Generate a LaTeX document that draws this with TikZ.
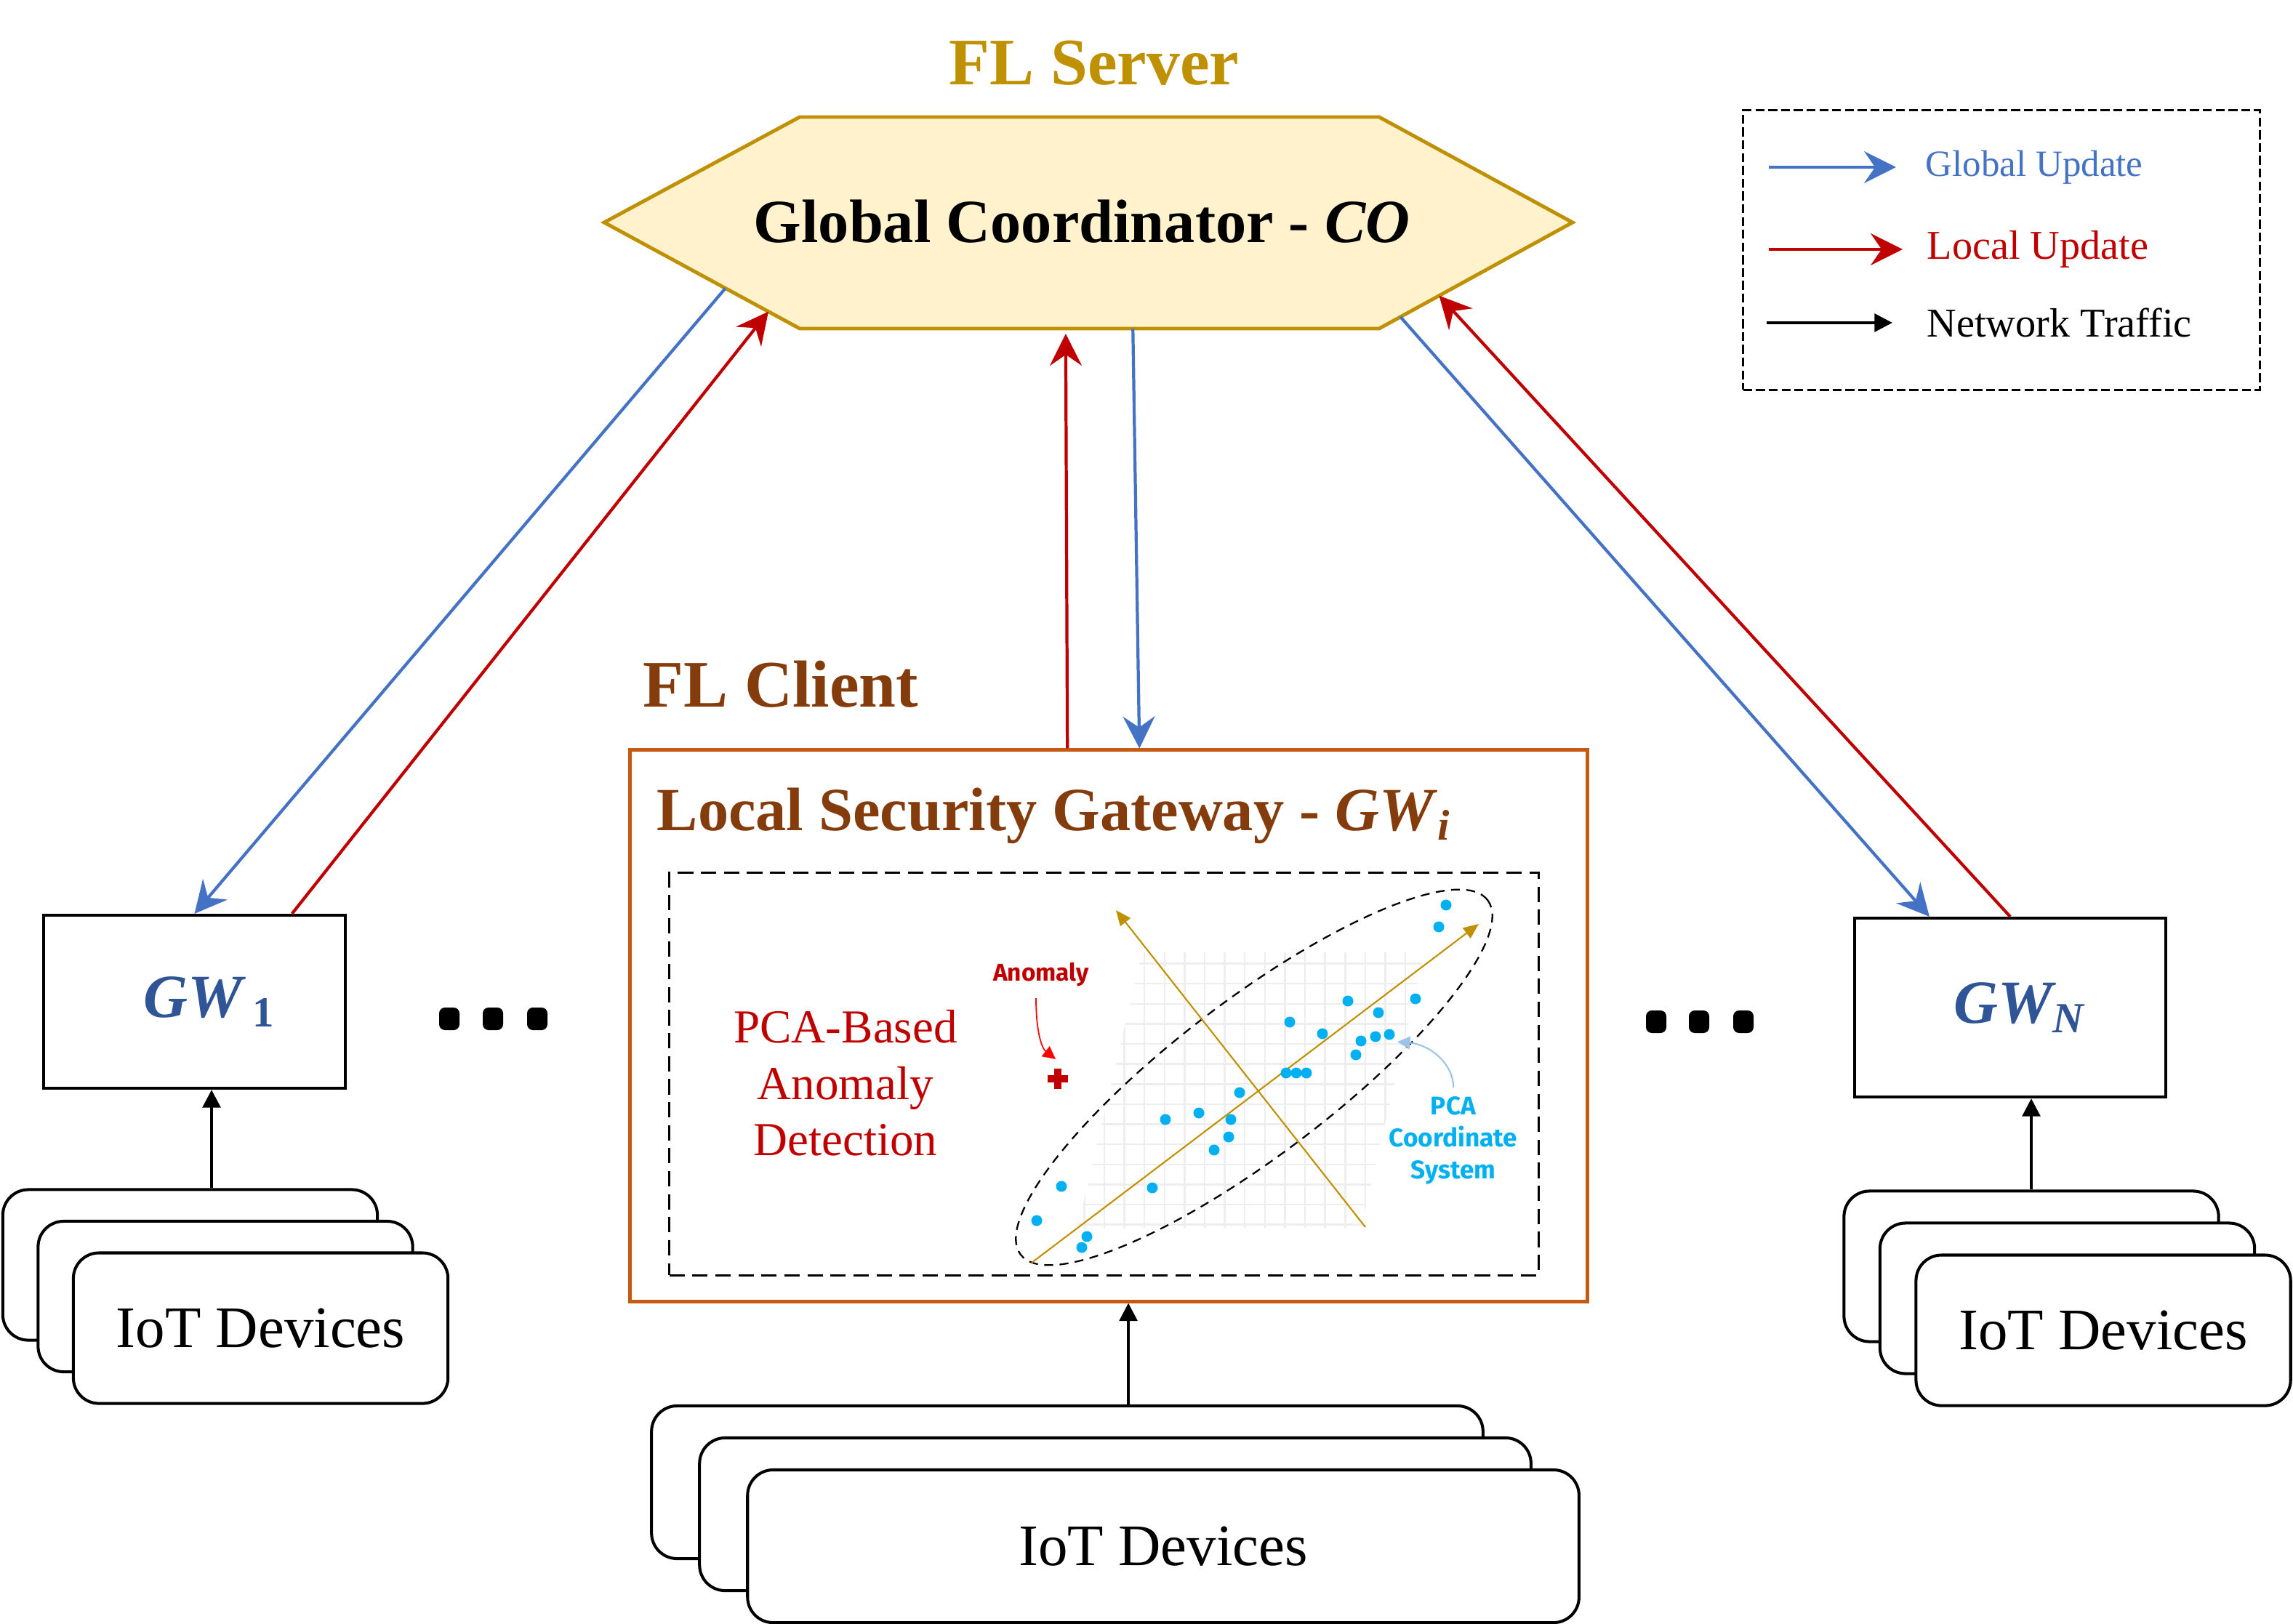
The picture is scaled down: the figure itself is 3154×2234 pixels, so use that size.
\documentclass[tikz,border=0pt]{standalone}
\usepackage{fontspec}
\setmainfont{Liberation Serif}
\newfontfamily\plotfont{Fira Sans}
\usetikzlibrary{arrows.meta, positioning, calc}
\definecolor{fedblue}{HTML}{4472C4}
\definecolor{fedred}{HTML}{C00000}
\definecolor{servergold}{HTML}{BF9000}
\definecolor{serverfill}{HTML}{FFF2CC}
\definecolor{clientbrown}{HTML}{843C0C}
\definecolor{clientorange}{HTML}{C55A11}
\definecolor{gwblue}{HTML}{2F5597}
\definecolor{pcacyan}{HTML}{00B0F0}
\definecolor{pcahint}{HTML}{9DC3E6}
\definecolor{gridgray}{HTML}{EEEEEE}
\definecolor{anomred}{HTML}{FF0000}

\begin{document}
\begin{tikzpicture}[
          x=0.01cm, y=-0.01cm,
          serverhex/.style={draw=servergold, fill=serverfill, line width=1.4pt},
          roletitle/.style={inner sep=0pt, font=\fontsize{26}{30}\selectfont\bfseries},
          coordtext/.style={inner sep=0pt, font=\fontsize{24}{28}\selectfont\bfseries},
          gwtitle/.style={inner sep=0pt, text=clientbrown, font=\fontsize{24}{28}\selectfont\bfseries},
          clientbox/.style={rectangle, draw=clientorange, line width=1.3pt, minimum width=13.16cm, minimum height=7.58cm},
          pcabox/.style={rectangle, draw=black, line width=0.9pt, dash pattern=on 6pt off 3pt, minimum width=11.95cm, minimum height=5.53cm},
          gwbox/.style={rectangle, draw=black, line width=1.15pt, minimum width=4.15cm, minimum height=2.38cm, text=gwblue, font=\fontsize{24}{28}\selectfont\bfseries\itshape},
          iotcard/.style={rectangle, rounded corners=10pt, draw=black, fill=white, line width=1.15pt, minimum width=5.15cm, minimum height=2.07cm, font=\fontsize{23}{27}\selectfont},
          iotwide/.style={iotcard, minimum width=11.43cm, minimum height=2.1cm},
          globalup/.style={-{Stealth[length=12.5pt, width=12.5pt, inset=4.3pt]}, draw=fedblue, line width=1.2pt},
          localup/.style={-{Stealth[length=12.5pt, width=12.5pt, inset=4.3pt]}, draw=fedred, line width=1.2pt},
          traffic/.style={-{Triangle[length=7pt, width=7pt]}, draw=black, line width=1.15pt},
          legendbox/.style={rectangle, draw=black, line width=0.8pt, dash pattern=on 3.5pt off 1.5pt, minimum width=7.1cm, minimum height=3.84cm},
          legendtext/.style={inner sep=0pt, anchor=west, font=\fontsize{16}{19}\selectfont},
          detecttext/.style={align=center, text=fedred, font=\fontsize{18.5}{22}\selectfont},
          pcagrid/.style={draw=gridgray, line width=0.7pt, step=0.276cm},
          pcaaxis/.style={-{Triangle[length=6pt, width=5pt]}, draw=servergold, line width=0.6pt},
          pcaring/.style={draw=black, line width=0.65pt, dash pattern=on 3.5pt off 2.5pt},
          pcadot/.style={fill=pcacyan},
          plotlabel/.style={align=center, font=\plotfont\bfseries\fontsize{10}{12.5}\selectfont},
          anomalymark/.style={draw=fedred, line width=2.6pt},
          anomalyarrow/.style={-{Triangle[length=5pt, width=5pt]}, draw=anomred, line width=0.5pt},
          hintarrow/.style={-{Triangle[length=5pt, width=5pt]}, draw=pcahint, line width=0.6pt},
          dotmark/.style={fill=black, rounded corners=0.08cm}
        ]
          \useasboundingbox (0,0) rectangle (3154,2234);

          \coordinate (hex-w) at (831,306);
          \coordinate (hex-nw) at (1100,161);
          \coordinate (hex-ne) at (1897,161);
          \coordinate (hex-e) at (2163,306);
          \coordinate (hex-se) at (1897,452);
          \coordinate (hex-sw) at (1100,452);
          \filldraw[serverhex] (hex-w) -- (hex-nw) -- (hex-ne) -- (hex-e) -- (hex-se) -- (hex-sw) -- cycle;
          \node[coordtext] (co) at (1488,305) {Global Coordinator - \textit{CO}};
          \node[roletitle, text=servergold] (server) at (1505,87) {FL Server};

          \node[legendbox] (legend) at (2753,344) {};
          \node[legendtext, text=fedblue, font=\fontsize{14.5}{17}\selectfont] (lgglobal) at (2648,230) {Global Update};
          \node[legendtext, text=fedred] (lglocal) at (2650,343) {Local Update};
          \node[legendtext] (lgtraffic) at (2650,444) {Network Traffic};
          \draw[globalup] ([xshift=-2.15cm]lgglobal.west) -- ([xshift=-0.4cm]lgglobal.west);
          \draw[localup] ([xshift=-2.17cm]lglocal.west) -- ([xshift=-0.33cm]lglocal.west);
          \draw[traffic] ([xshift=-2.2cm]lgtraffic.west) -- ([xshift=-0.47cm]lgtraffic.west);

          \node[roletitle, text=clientbrown] (client) at (1074,941) {FL Client};
          \node[clientbox] (gwi) at (1525,1411) {};
          \node[gwtitle, anchor=base west] (gwititle) at (903,1142) {Local Security Gateway - \textit{GW}\textsubscript{\textit{i}}};
          \node[pcabox] (pca) at (1518.5,1477.5) {};
          \node[detecttext] (detect) at (1163,1490) {PCA-Based\\Anomaly\\Detection};

          \begin{scope}
            \clip (1571,1310) -- (1960,1310) -- (1872,1689) -- (1482,1689) -- cycle;
            \draw[pcagrid] (1470,1300) grid (1970,1700);
          \end{scope}
          \draw[pcaring, rotate around={37.2:(1725,1482)}] (1725,1482) ellipse [x radius=4.03cm, y radius=1.07cm];
          \draw[pcaaxis] (1419,1737) -- (2034,1271);
          \draw[pcaaxis] (1878,1688) -- (1535,1252);
          \foreach \px/\py in {1989/1245, 1979/1275, 1854/1377, 1947/1374, 1896/1393, 1774/1406, 1819/1422,
                               1872/1432, 1892/1426, 1911/1423, 1865/1451, 1769/1476, 1783/1476, 1797/1476,
                               1705/1503, 1603/1540, 1649/1531, 1693/1540, 1690/1564, 1670/1582, 1460/1632,
                               1585/1634, 1426/1679, 1495/1701, 1488/1716}
            \fill[pcadot] (\px,\py) circle [radius=0.075cm];
          \node[plotlabel, text=fedred, font=\plotfont\bfseries\fontsize{9.5}{11}\selectfont] (anomaly) at (1432,1341) {Anomaly};
          \draw[anomalyarrow] (1425,1373) .. controls (1425,1420) and (1433,1442) .. (1452,1457);
          \draw[anomalymark] (1441,1484) -- (1469,1484) (1455,1470) -- (1455,1498);
          \node[plotlabel, text=pcacyan] (pcalabel) at (1999,1569) {PCA\\Coordinate\\System};
          \draw[hintarrow] (pcalabel.north) .. controls (2000,1465) and (1968,1437) .. (1922,1433);

          \node[gwbox] (gw1) at (267.5,1378) {\hspace*{12pt}GW\,\textsubscript{\upshape 1}};
          \node[gwbox, minimum width=4.28cm, minimum height=2.46cm] (gwN) at (2765,1386) {\hspace*{7pt}GW\textsubscript{N}};
          \foreach \dx in {618, 678, 739}
            \fill[dotmark] (\dx-14,1386) rectangle (\dx+14,1417);
          \foreach \dx in {2278, 2337, 2398}
            \fill[dotmark] (\dx-14,1390) rectangle (\dx+14,1421);

          \node[iotcard] (iotLc) at (261.5,1740) {};
          \node[iotcard] (iotLb) at ([shift={(0.485cm,-0.435cm)}]iotLc) {};
          \node[iotcard] (iotLa) at ([shift={(0.485cm,-0.435cm)}]iotLb) {IoT Devices};
          \node[iotcard] (iotRc) at (2794,1742) {};
          \node[iotcard] (iotRb) at ([shift={(0.495cm,-0.44cm)}]iotRc) {};
          \node[iotcard] (iotRa) at ([shift={(0.495cm,-0.44cm)}]iotRb) {IoT Devices};
          \node[iotwide] (iotCc) at (1468,2039) {};
          \node[iotwide] (iotCb) at ([shift={(0.66cm,-0.44cm)}]iotCc) {};
          \node[iotwide] (iotCa) at ([shift={(0.66cm,-0.44cm)}]iotCb) {IoT Devices};

          \draw[traffic] ([xshift=0.295cm]iotLc.north) -- ([xshift=0.295cm]iotLc.north |- gw1.south);
          \draw[traffic] (iotRc.north) -- (iotRc.north |- gwN.south);
          \draw[traffic] ([xshift=0.84cm]iotCc.north) -- ([xshift=0.84cm]iotCc.north |- gwi.south);

          \draw[globalup] ($(hex-w)!0.62!(hex-sw)$) -- (gw1.north);
          \draw[localup] ($(gw1.north west)!0.82!(gw1.north east)$) -- ($(hex-w)!0.84!(hex-sw)$);
          \draw[localup, shorten >=2pt] ($(gwi.north west)!0.457!(gwi.north east)$) -- ($(hex-sw)!0.459!(hex-se)$);
          \draw[globalup] ($(hex-sw)!0.575!(hex-se)$) -- ($(gwi.north west)!0.532!(gwi.north east)$);
          \draw[globalup] ($(hex-e)!0.89!(hex-se)$) -- ($(gwN.north west)!0.243!(gwN.north east)$);
          \draw[localup] (gwN.north) -- ($(hex-e)!0.69!(hex-se)$);
        \end{tikzpicture}
\end{document}
